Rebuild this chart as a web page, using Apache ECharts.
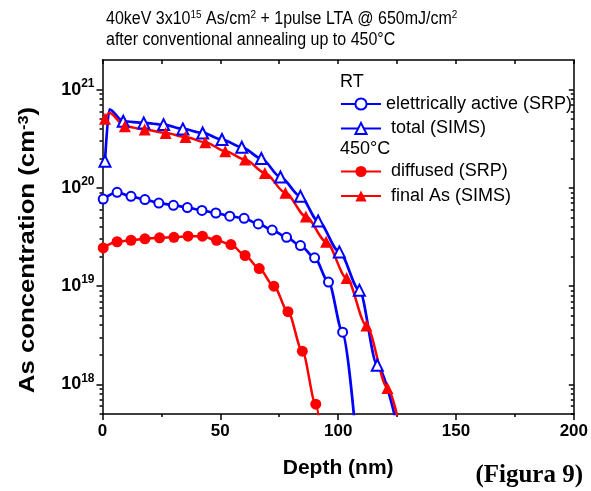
<!DOCTYPE html>
<html><head><meta charset="utf-8">
<script src="https://cdn.jsdelivr.net/npm/echarts@6/dist/echarts.min.js"></script>
<style>html,body{margin:0;padding:0;background:#fff}#c{width:591px;height:491px}</style>
</head><body><div id="c"></div>
<script>
// ---- data (depth in nm, concentration in cm^-3) ----
const activeRT_x = [0.3, 6.2, 12.1, 18.0, 23.9, 30.1, 36.0, 42.2, 48.1, 54.0, 60.1, 66.1, 72.0, 78.1, 84.0, 90.0, 95.9, 101.9, 107.5];
const activeRT_y = [7.7e19, 9.0e19, 8.2e19, 7.6e19, 7.0e19, 6.65e19, 6.3e19, 5.9e19, 5.55e19, 5.15e19, 4.9e19, 4.3e19, 3.72e19, 3.14e19, 2.59e19, 1.94e19, 1.1e19, 3.4e18, 3.0e17];

const totalRT_x = [1.05, 2.9, 8.8, 17.5, 25.9, 34.1, 42.5, 50.7, 59.1, 67.4, 75.5, 84.0, 91.5, 100.5, 109.0, 116.6, 126.0];
const totalRT_y = [1.87e20, 6.3e20, 4.76e20, 4.58e20, 4.4e20, 3.98e20, 3.62e20, 3.1e20, 2.59e20, 1.99e20, 1.29e20, 8.2e19, 4.6e19, 2.23e19, 9.1e18, 1.57e18, 3.0e17];
const totalRT_noMarker = [1];

const diffused450_x = [0.3, 6.2, 12.1, 18.0, 24.2, 30.3, 36.3, 42.4, 48.4, 54.5, 60.5, 66.5, 72.7, 78.7, 84.8, 90.5, 92.5];
const diffused450_y = [2.45e19, 2.83e19, 2.93e19, 3.03e19, 3.1e19, 3.14e19, 3.22e19, 3.22e19, 2.93e19, 2.65e19, 2.05e19, 1.51e19, 1.0e19, 5.5e18, 2.18e18, 6.3e17, 3.5e17];

const final450_x = [1.05, 2.9, 9.5, 17.9, 26.8, 35.2, 43.6, 52.1, 60.5, 68.9, 77.6, 86.3, 94.9, 103.6, 112.0, 120.9, 127.0];
const final450_y = [5.04e20, 5.8e20, 4.24e20, 3.92e20, 3.62e20, 3.3e20, 2.91e20, 2.36e20, 1.94e20, 1.42e20, 8.9e19, 5.1e19, 2.83e19, 1.21e19, 3.97e18, 9.2e17, 3.0e17];
const final450_noMarker = [1];

const seriesNames = ['elettrically active (SRP)', ' total (SIMS)', ' diffused (SRP)', ' final As (SIMS)'];
const groupTitles = ['RT', '450°C'];
const xTicks = [0, 50, 100, 150, 200];
const yMajor = [1e18, 1e19, 1e20, 1e21];

// ---- build ----
const yMin = 5e17, yMax = 2e21;
const yMinor = [];
for (let e = 17; e <= 21; e++) for (let m = 2; m <= 9; m++) {
  const v = m * Math.pow(10, e);
  if (v >= yMin && v < yMax) yMinor.push(v);
}
function pts(xs, ys, noMarker) {
  return xs.map((x, i) => (noMarker && noMarker.indexOf(i) >= 0)
    ? { value: [x, ys[i]], symbol: 'none' } : [x, ys[i]]);
}
const FONT = 'Liberation Sans, Arial, sans-serif';
const BLUE = '#0000ff', RED = '#ff0000';

const chart = echarts.init(document.getElementById('c'), null, { renderer: 'canvas' });
const yLabelFmt = v => '{b|10}{s|' + Math.round(Math.log10(v)) + '}';
function logAxis(extra) {
  return Object.assign({
    type: 'log', logBase: 10, min: yMin, max: yMax, gridIndex: 0,
    splitLine: { show: false }, minorTick: { show: false }, minorSplitLine: { show: false },
    axisLine: { show: false }, axisLabel: { show: false }, axisTick: { show: false }
  }, extra);
}
const lineCommon = { smooth: 0.3, smoothMonotone: 'x', clip: true, z: 3 };
const legendCommon = { orient: 'vertical', left: 340, itemWidth: 40, itemHeight: 14, itemGap: 6.5,
  textStyle: { fontSize: 18, fontFamily: FONT, color: '#000', lineHeight: 16 }, padding: 0 };

chart.setOption({
  animation: false,
  backgroundColor: '#ffffff',
  grid: { left: 102.5, right: 13.5, top: 60, bottom: 77, containLabel: false },
  graphic: [
    { type: 'text', left: 106, top: 9, scaleY: 1.1,
      style: { text: '{a|40keV 3x10}{s|15}{a| As/cm}{s|2}{a| + 1pulse LTA @ 650mJ/cm}{s|2}\n{a|after conventional annealing up to 450°C}',
        fill: '#000', font: '16px ' + FONT,
        rich: { a: { fontSize: 16, fontFamily: FONT, lineHeight: 19 }, s: { fontSize: 10, fontFamily: FONT, lineHeight: 9, verticalAlign: 'top' } } } },
    { type: 'text', x: 28, y: 250, rotation: Math.PI / 2, scaleX: 1.17,
      style: { text: 'As concentration (cm{s|-3})', fill: '#000', font: 'bold 22px ' + FONT,
        textAlign: 'center', textVerticalAlign: 'middle', align: 'center', verticalAlign: 'middle',
        rich: { s: { fontSize: 14, fontWeight: 'bold', fontFamily: FONT, lineHeight: 12, verticalAlign: 'top' } } } },
    { type: 'text', x: 340, y: 82, style: { text: groupTitles[0], fill: '#000', font: '18px ' + FONT, textVerticalAlign: 'middle', verticalAlign: 'middle' } },
    { type: 'text', x: 340, y: 149.5, style: { text: groupTitles[1], fill: '#000', font: '18px ' + FONT, textVerticalAlign: 'middle', verticalAlign: 'middle' } },
    { type: 'text', x: 583, y: 476, style: { text: '(Figura 9)', fill: '#000', font: 'bold 25px Liberation Serif, Times New Roman, serif', textAlign: 'right', align: 'right', textVerticalAlign: 'middle', verticalAlign: 'middle' } }
  ],
  legend: [
    Object.assign({ data: [seriesNames[0], seriesNames[1]], top: 95 }, legendCommon),
    Object.assign({ data: [seriesNames[2], seriesNames[3]], top: 162.5 }, legendCommon)
  ],
  xAxis: [
    { type: 'value', min: 0, max: 200, interval: 50, position: 'bottom',
      axisLine: { lineStyle: { color: '#000', width: 1.5 } },
      axisTick: { inside: false, length: 6, lineStyle: { color: '#000', width: 1.5 }, customValues: xTicks },
      minorTick: { show: true, splitNumber: 2, length: 3, lineStyle: { color: '#000', width: 1.5 } },
      axisLabel: { customValues: xTicks, color: '#000', fontSize: 17, fontWeight: 'bold', fontFamily: FONT, margin: 9 },
      splitLine: { show: false },
      name: 'Depth (nm)', nameLocation: 'middle', nameGap: 44,
      nameTextStyle: { fontSize: 21, fontWeight: 'bold', fontFamily: FONT, color: '#000' } },
    { type: 'value', min: 0, max: 200, interval: 25, position: 'top',
      axisLine: { lineStyle: { color: '#000', width: 1.5 } },
      axisTick: { inside: true, length: 4, lineStyle: { color: '#000', width: 1.5 } },
      axisLabel: { show: false }, splitLine: { show: false } }
  ],
  yAxis: [
    logAxis({ position: 'left',
      axisLine: { show: true, lineStyle: { color: '#000', width: 1.5 } },
      axisTick: { show: true, inside: false, length: 6, customValues: yMajor, lineStyle: { color: '#000', width: 1.5 } },
      axisLabel: { show: true, customValues: yMajor, margin: 8, formatter: yLabelFmt, color: '#000',
        rich: { b: { fontSize: 18, fontWeight: 'bold', fontFamily: FONT, lineHeight: 24, color: '#000' },
                s: { fontSize: 12, fontWeight: 'bold', fontFamily: FONT, lineHeight: 10, verticalAlign: 'top', color: '#000' } } } }),
    logAxis({ position: 'left',
      axisTick: { show: true, inside: false, length: 3, customValues: yMinor, lineStyle: { color: '#000', width: 1.5 } } }),
    logAxis({ position: 'right',
      axisLine: { show: true, lineStyle: { color: '#000', width: 1.5 } },
      axisTick: { show: true, inside: true, length: 5, customValues: yMajor, lineStyle: { color: '#000', width: 1.5 } } }),
    logAxis({ position: 'right',
      axisTick: { show: true, inside: true, length: 3, customValues: yMinor, lineStyle: { color: '#000', width: 1.5 } } })
  ],
  series: [
    Object.assign({ name: seriesNames[0], type: 'line', data: pts(activeRT_x, activeRT_y),
      symbol: 'emptyCircle', symbolSize: 9, color: BLUE,
      lineStyle: { color: BLUE, width: 2.7 }, itemStyle: { color: BLUE, borderWidth: 1.4 } }, lineCommon),
    Object.assign({ name: seriesNames[1], type: 'line', data: pts(totalRT_x, totalRT_y, totalRT_noMarker),
      symbol: 'emptyTriangle', symbolSize: 11, color: BLUE,
      lineStyle: { color: BLUE, width: 2.7 }, itemStyle: { color: BLUE, borderWidth: 1.4 } }, lineCommon),
    Object.assign({ name: seriesNames[2], type: 'line', data: pts(diffused450_x, diffused450_y),
      symbol: 'circle', symbolSize: 11, color: RED,
      lineStyle: { color: RED, width: 2.5 }, itemStyle: { color: RED } }, lineCommon),
    Object.assign({ name: seriesNames[3], type: 'line', data: pts(final450_x, final450_y, final450_noMarker),
      symbol: 'triangle', symbolSize: 12, color: RED,
      lineStyle: { color: RED, width: 2.5 }, itemStyle: { color: RED } }, lineCommon)
  ]
});
</script></body></html>
